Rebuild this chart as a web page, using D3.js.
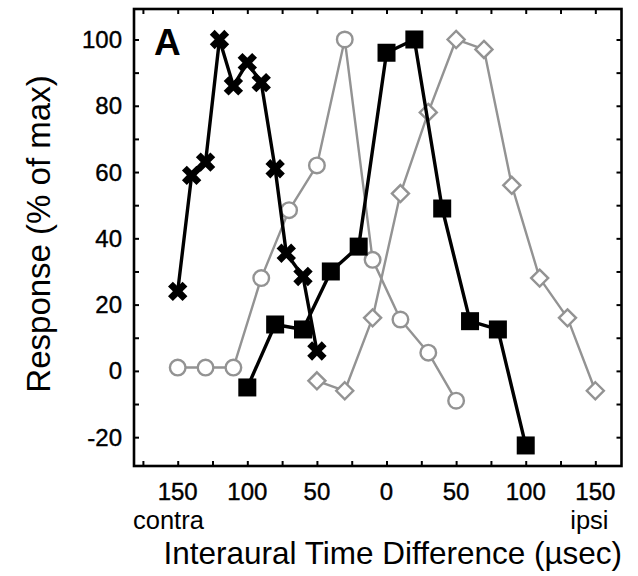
<!DOCTYPE html>
<html lang="en">
<head>
<meta charset="utf-8">
<script src="https://d3js.org/d3.v7.min.js"></script>
<style>
  body { margin: 0; background: #fff; }
  text { font-family: "Liberation Sans", Arial, sans-serif; fill: #000; }
</style>
</head>
<body>
<div id="chart"></div>
<script>
// ITD values (usec, negative = contra) and responses (% of max)
const crossX = [-150, -140, -130, -120, -110, -100, -90, -80, -72, -60, -50];
const crossY = [24, 59, 63, 100, 86, 93, 87, 61, 35.5, 28.5, 6];

const circleX = [-150, -130, -110, -90, -70, -50, -30, -10, 10, 30, 50];
const circleY = [1, 1, 1, 28, 48.5, 62, 100, 33.5, 15.5, 5.5, -9];

const squareX = [-100, -80, -60, -40, -20, 0, 20, 40, 60, 80, 100];
const squareY = [-5, 14, 12.5, 30, 37.5, 96, 100, 49, 15, 12.5, -22.5];

const diamondX = [-50, -30, -10, 10, 30, 50, 70, 90, 110, 130, 150];
const diamondY = [-3, -6, 16, 53.5, 78, 100, 97, 56, 28, 16, -6];

const xTicks = [-175, -150, -125, -100, -75, -50, -25, 0, 25, 50, 75, 100, 125, 150];
const xLabels = [-150, -100, -50, 0, 50, 100, 150];
const yTicks = [-20, -10, 0, 10, 20, 30, 40, 50, 60, 70, 80, 90, 100];
const yLabels = [-20, 0, 20, 40, 60, 80, 100];

let margin = {top: 9, right: 16.5, bottom: 110, left: 134},
    width = 638 - margin.left - margin.right,
    height = 576 - margin.top - margin.bottom;

let svg = d3.select("#chart").append("svg")
  .attr("width", 638)
  .attr("height", 576);

let g = svg.append("g")
  .attr("transform", "translate(" + margin.left + "," + margin.top + ")");

let x = d3.scaleLinear().domain([-181.4, 168.8]).range([0, width]);
let y = d3.scaleLinear().domain([-28.7, 109.2]).range([height, 0]);

// inward ticks on all four sides
const tk = 5;
g.append("g").attr("transform", "translate(0," + height + ")")
  .call(d3.axisBottom(x).tickValues(xTicks).tickSize(-tk).tickFormat(""));
g.append("g")
  .call(d3.axisTop(x).tickValues(xTicks).tickSize(-tk).tickFormat(""));
g.append("g")
  .call(d3.axisLeft(y).tickValues(yTicks).tickSize(-tk).tickFormat(""));
g.append("g").attr("transform", "translate(" + width + ",0)")
  .call(d3.axisRight(y).tickValues(yTicks).tickSize(-tk).tickFormat(""));
g.selectAll(".domain").remove();
g.selectAll(".tick line").attr("stroke", "#000").attr("stroke-width", 2);

g.append("rect")
  .attr("width", width).attr("height", height)
  .attr("fill", "none").attr("stroke", "#000").attr("stroke-width", 2.6);

// tick labels
g.selectAll(".xlab").data(xLabels).enter().append("text")
  .attr("x", d => x(d)).attr("y", height + 34)
  .attr("text-anchor", "middle").style("font-size", "24px")
  .attr("stroke", "#000").attr("stroke-width", 0.4)
  .text(d => Math.abs(d));
g.selectAll(".ylab").data(yLabels).enter().append("text")
  .attr("x", -12).attr("y", d => y(d) + 8.5)
  .attr("text-anchor", "end").style("font-size", "24px")
  .attr("stroke", "#000").attr("stroke-width", 0.4)
  .text(d => d);

// axis titles
g.append("text").attr("x", -1).attr("y", height + 63)
  .style("font-size", "25.5px").text("contra");
g.append("text").attr("x", width - 13).attr("y", height + 63)
  .attr("text-anchor", "end").style("font-size", "25.5px").text("ipsi");
g.append("text").attr("x", width / 2 + 15).attr("y", height + 98)
  .attr("text-anchor", "middle").style("font-size", "31.5px")
  .text("Interaural Time Difference (\u00b5sec)");
svg.append("text")
  .attr("transform", "translate(50," + 234 + ") rotate(-90)")
  .attr("text-anchor", "middle").style("font-size", "33px")
  .text("Response (% of max)");
g.append("text").attr("x", 20).attr("y", 46)
  .style("font-size", "37px").style("font-weight", "bold").text("A");

let line = d3.line().x(d => x(d[0])).y(d => y(d[1]));
const grey = "#939393";

function series(xs, ys, color, lw) {
  let pts = d3.zip(xs, ys);
  g.append("path").datum(pts)
    .attr("fill", "none").attr("stroke", color).attr("stroke-width", lw)
    .attr("stroke-linejoin", "round")
    .attr("d", line);
  return pts;
}

// grey series first
let cPts = series(circleX, circleY, grey, 2.4);
g.selectAll(".circ").data(cPts).enter().append("circle")
  .attr("cx", d => x(d[0])).attr("cy", d => y(d[1])).attr("r", 7.8)
  .attr("fill", "#fff").attr("stroke", grey).attr("stroke-width", 2.4);

let dPts = series(diamondX, diamondY, grey, 2.4);
g.selectAll(".diam").data(dPts).enter().append("path")
  .attr("transform", d => "translate(" + x(d[0]) + "," + y(d[1]) + ")")
  .attr("d", d3.symbol().type(d3.symbolDiamond2).size(185))
  .attr("fill", "#fff").attr("stroke", grey).attr("stroke-width", 2.4);

// black series
let xPts = series(crossX, crossY, "#000", 3.4);
g.selectAll(".cross").data(xPts).enter().append("path")
  .attr("transform", d => "translate(" + x(d[0]) + "," + y(d[1]) + ") rotate(45)")
  .attr("d", d3.symbol().type(d3.symbolCross).size(235))
  .attr("fill", "#000");

let sPts = series(squareX, squareY, "#000", 3.4);
g.selectAll(".sq").data(sPts).enter().append("rect")
  .attr("x", d => x(d[0]) - 9).attr("y", d => y(d[1]) - 9)
  .attr("width", 18).attr("height", 18)
  .attr("fill", "#000");
</script>
</body>
</html>
